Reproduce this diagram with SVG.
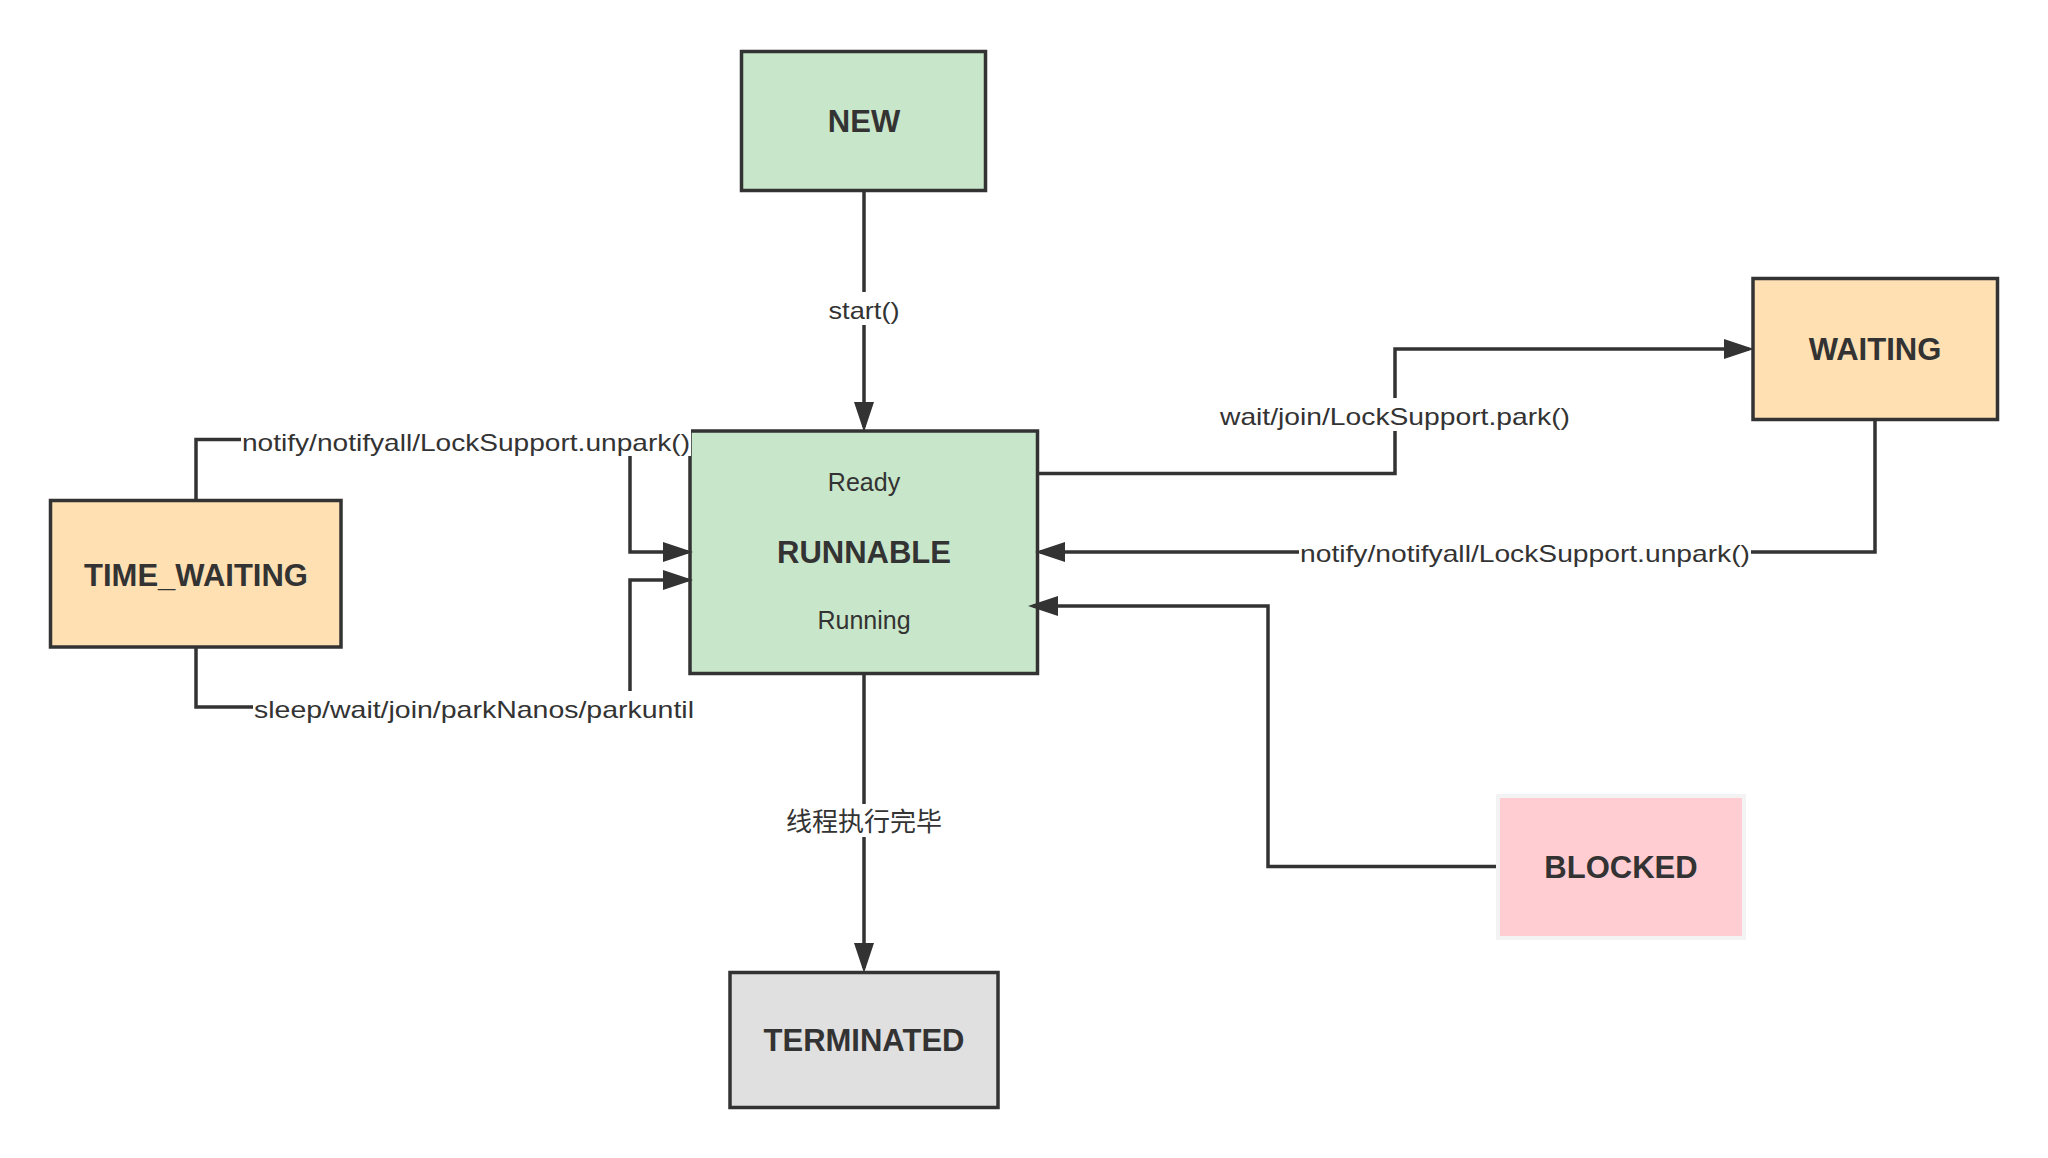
<svg xmlns="http://www.w3.org/2000/svg" width="2048" height="1158" viewBox="0 0 2048 1158">
<defs>
<style>
.box{stroke:#333333;stroke-width:3.5}
.title{font-family:"Liberation Sans",Arial,sans-serif;font-size:31px;font-weight:bold;fill:#333333;text-anchor:middle}
.sub{font-family:"Liberation Sans",Arial,sans-serif;font-size:25px;fill:#333333;text-anchor:middle}
.lbl{font-family:"Liberation Sans",Arial,"Noto Sans CJK SC",sans-serif;font-size:24px;fill:#333333;text-anchor:middle}
.cjk{font-family:"Noto Sans CJK SC","Liberation Sans",sans-serif;font-size:26px;fill:#333333;text-anchor:middle}
.lbg{fill:#ffffff}
.edge{fill:none;stroke:#333333;stroke-width:3.5}
</style>
<marker id="arr" markerUnits="userSpaceOnUse" markerWidth="30" markerHeight="20" viewBox="0 0 30 20" refX="25" refY="10" orient="auto">
<path d="M0,0 L30,10 L0,20 z" fill="#333333"/>
</marker>
</defs>
<rect x="0" y="0" width="2048" height="1158" fill="#ffffff"/>

<g id="node-new">
<rect class="box" x="741.5" y="51.5" width="244" height="139" fill="#c8e6c9"/>
<text class="title" x="864" y="132">NEW</text>
</g>

<g id="node-runnable">
<rect class="box" x="690" y="431" width="347.5" height="242.5" fill="#c8e6c9"/>
<text class="sub" x="864" y="491">Ready</text>
<text class="title" x="864" y="563">RUNNABLE</text>
<text class="sub" x="864" y="629">Running</text>
</g>

<g id="node-time-waiting">
<rect class="box" x="50.5" y="500.5" width="290.5" height="146.5" fill="#ffe0b2"/>
<text class="title" x="196" y="586">TIME_WAITING</text>
</g>

<g id="node-waiting">
<rect class="box" x="1753" y="278.5" width="244.5" height="141" fill="#ffe0b2"/>
<text class="title" x="1875" y="360">WAITING</text>
</g>

<g id="node-blocked">
<rect x="1498" y="796" width="246" height="142" fill="#ffcdd2" stroke="#f3f3f3" stroke-width="4"/>
<text class="title" x="1621" y="878">BLOCKED</text>
</g>

<g id="node-terminated">
<rect class="box" x="730" y="972.5" width="268" height="135" fill="#e0e0e0"/>
<text class="title" x="864" y="1051">TERMINATED</text>
</g>

<g id="connectors">
<path class="edge" d="M864,191 V427" marker-end="url(#arr)"/>
<path class="edge" d="M864,674 V968" marker-end="url(#arr)"/>
<path class="edge" d="M1038,473.5 H1395 V349 H1749" marker-end="url(#arr)"/>
<path class="edge" d="M1875,420 V552 H1040" marker-end="url(#arr)"/>
<path class="edge" d="M1496,866.5 H1268 V606 H1033" marker-end="url(#arr)"/>
<path class="edge" d="M196,500 V439.5 H630 V552 H688" marker-end="url(#arr)"/>
<path class="edge" d="M196,647 V707 H630 V580 H688" marker-end="url(#arr)"/>

<g id="label-start">
<rect class="lbg" x="827" y="292" width="74" height="33"/>
<text class="lbl" x="864" y="319" textLength="71" lengthAdjust="spacingAndGlyphs">start()</text>
</g>
<g id="label-finish">
<rect class="lbg" x="785" y="804" width="158" height="33"/>
<text class="cjk" x="864" y="831">线程执行完毕</text>
</g>
<g id="label-wait">
<rect class="lbg" x="1219" y="398" width="352" height="33"/>
<text class="lbl" x="1395" y="425" textLength="350" lengthAdjust="spacingAndGlyphs">wait/join/LockSupport.park()</text>
</g>
<g id="label-notify-right">
<rect class="lbg" x="1299" y="537" width="452" height="32"/>
<text class="lbl" x="1525" y="561.5" textLength="450" lengthAdjust="spacingAndGlyphs">notify/notifyall/LockSupport.unpark()</text>
</g>
<g id="label-notify-left">
<rect class="lbg" x="241" y="425" width="450" height="31"/>
<text class="lbl" x="466" y="451" textLength="448" lengthAdjust="spacingAndGlyphs">notify/notifyall/LockSupport.unpark()</text>
</g>
<g id="label-sleep">
<rect class="lbg" x="253" y="691" width="442" height="35"/>
<text class="lbl" x="474" y="718" textLength="440" lengthAdjust="spacingAndGlyphs">sleep/wait/join/parkNanos/parkuntil</text>
</g>
</g>
</svg>
